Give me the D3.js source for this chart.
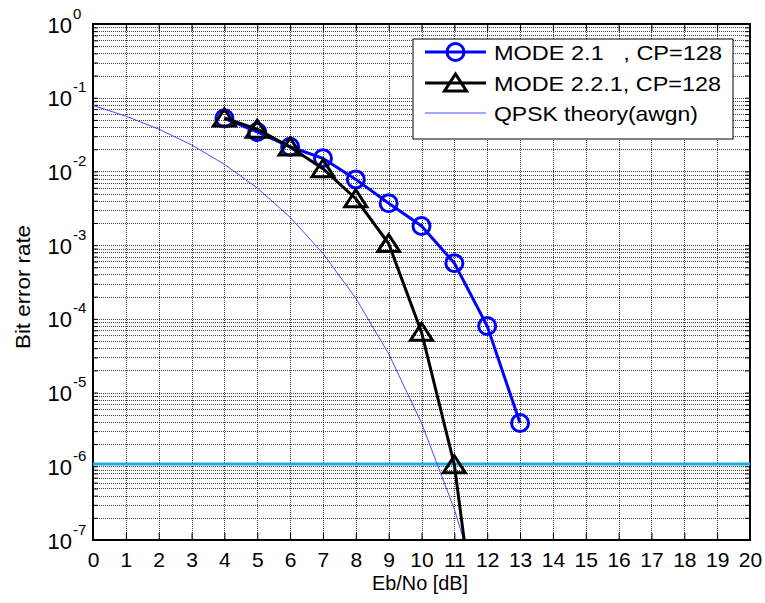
<!DOCTYPE html>
<html>
<head>
<meta charset="utf-8">
<script src="https://cdn.jsdelivr.net/npm/d3@7/dist/d3.min.js"></script>
<style>
  html, body { margin: 0; padding: 0; background: #fff; }
  svg { display: block; font-family: Arial, "Liberation Sans", sans-serif; }
</style>
</head>
<body>
<svg id="chart" width="765" height="603"></svg>
<script>
// ---- data ----
const snrMode21 = [4, 5, 6, 7, 8, 9, 10, 11, 12, 13];
const berMode21 = [0.0525, 0.0343, 0.0216, 0.0151, 0.0078, 0.0037, 0.00182, 0.00057, 8.0e-5, 3.86e-6];

const snrMode221 = [4, 5, 6, 7, 8, 9, 10, 11, 12];
const berMode221 = [0.053, 0.0374, 0.0215, 0.0109, 0.00426, 0.00105, 6.6e-5, 1.05e-6, 4e-10];

const snrTheory = [0, 1, 2, 3, 4, 5, 6, 7, 8, 9, 10, 11, 12];
const berTheory = [0.0786, 0.0563, 0.0375, 0.0229, 0.0125, 0.00595, 0.00239, 7.73e-4, 1.91e-4, 3.36e-5, 3.87e-6, 2.61e-7, 9.0e-9];

const targetBer = 1.07e-6;

const xTicks = d3.range(0, 21);
const yExponents = [0, -1, -2, -3, -4, -5, -6, -7];

const legendLabels = ["MODE 2.1   , CP=128", "MODE 2.2.1, CP=128", "QPSK theory(awgn)"];

// ---- layout ----
const L = 93, R = 750, T = 24, B = 540;
const svg = d3.select("#chart");

const x = d3.scaleLinear().domain([0, 20]).range([L, R]);
const y = d3.scaleLog().domain([1e-7, 1]).range([B, T]);

svg.append("defs").append("clipPath").attr("id", "clip")
  .append("rect").attr("x", L).attr("y", T).attr("width", R - L).attr("height", B - T);

// ---- grid ----
const grid = svg.append("g");
const hLines = [];
for (let e = -7; e < 0; e++) {
  for (let m = 1; m <= 9; m++) hLines.push(m * Math.pow(10, e));
}
grid.selectAll("line.h").data(hLines).join("line")
  .attr("x1", L).attr("x2", R)
  .attr("y1", d => Math.round(y(d)) + 0.5).attr("y2", d => Math.round(y(d)) + 0.5)
  .attr("stroke", "#000").attr("stroke-opacity", 0.75)
  .attr("stroke-width", 1).attr("stroke-dasharray", "1,1");
grid.selectAll("line.v").data(xTicks.slice(1, -1)).join("line")
  .attr("y1", T).attr("y2", B)
  .attr("x1", d => Math.round(x(d)) + 0.5).attr("x2", d => Math.round(x(d)) + 0.5)
  .attr("stroke", "#000").attr("stroke-opacity", 0.75)
  .attr("stroke-width", 1).attr("stroke-dasharray", "1,1");

// ---- axes ----
const xAxis = d3.axisBottom(x).tickValues(xTicks).tickSize(-7).tickPadding(12).tickSizeOuter(0);
const gx = svg.append("g").attr("transform", `translate(0,${B})`).call(xAxis);
gx.select(".domain").remove();
gx.selectAll(".tick line").attr("stroke", "#000");
gx.selectAll(".tick text").attr("font-size", 21).attr("fill", "#000")
  .attr("font-family", "Arial, 'Liberation Sans', sans-serif");

const xAxisTop = d3.axisTop(x).tickValues(xTicks).tickSize(-7).tickFormat("").tickSizeOuter(0);
const gxt = svg.append("g").attr("transform", `translate(0,${T})`).call(xAxisTop);
gxt.select(".domain").remove();

const yAxis = d3.axisLeft(y).tickValues(hLines.concat([1])).tickSize(-5).tickFormat("").tickSizeOuter(0);
const gy = svg.append("g").attr("transform", `translate(${L},0)`).call(yAxis);
gy.select(".domain").remove();
const yAxisR = d3.axisRight(y).tickValues(hLines.concat([1])).tickSize(-5).tickFormat("").tickSizeOuter(0);
const gyr = svg.append("g").attr("transform", `translate(${R},0)`).call(yAxisR);
gyr.select(".domain").remove();

// y labels 10^e
const ylab = svg.append("g");
yExponents.forEach(e => {
  const yy = y(Math.pow(10, e));
  ylab.append("text").attr("x", 72).attr("y", yy + 8.5)
    .attr("text-anchor", "end").attr("font-size", 22).attr("fill", "#000").text("10");
  ylab.append("text").attr("x", 73).attr("y", yy - 5.5)
    .attr("text-anchor", "start").attr("font-size", 15).attr("fill", "#000").text(String(e));
});

// frame
svg.append("rect").attr("x", L).attr("y", T).attr("width", R - L).attr("height", B - T)
  .attr("fill", "none").attr("stroke", "#000").attr("stroke-width", 2);

// axis titles
svg.append("text").attr("x", 420).attr("y", 590).attr("text-anchor", "middle")
  .attr("font-size", 20).attr("fill", "#000")
  .attr("textLength", 96).attr("lengthAdjust", "spacingAndGlyphs").text("Eb/No [dB]");
svg.append("text").attr("transform", `translate(30,${(T + B) / 2 + 5}) rotate(-90)`)
  .attr("text-anchor", "middle").attr("font-size", 20).attr("fill", "#000")
  .attr("textLength", 124).attr("lengthAdjust", "spacingAndGlyphs").text("Bit error rate");

// ---- data marks ----
const plot = svg.append("g").attr("clip-path", "url(#clip)");
const line = d3.line().x(d => x(d[0])).y(d => y(d[1]));

plot.append("line").attr("x1", L).attr("x2", R)
  .attr("y1", y(targetBer)).attr("y2", y(targetBer))
  .attr("stroke", "#19ade6").attr("stroke-width", 3);

plot.append("path").datum(d3.zip(snrTheory, berTheory))
  .attr("d", line).attr("fill", "none").attr("stroke", "#4a4aff").attr("stroke-width", 1);

const d21 = d3.zip(snrMode21, berMode21);
plot.append("path").datum(d21).attr("d", line)
  .attr("fill", "none").attr("stroke", "#0000ff").attr("stroke-width", 3);
plot.selectAll("circle.m21").data(d21).join("circle")
  .attr("cx", d => x(d[0])).attr("cy", d => y(d[1])).attr("r", 8.5)
  .attr("fill", "none").attr("stroke", "#0000ff").attr("stroke-width", 3);

const d221 = d3.zip(snrMode221, berMode221);
plot.append("path").datum(d221).attr("d", line)
  .attr("fill", "none").attr("stroke", "#000").attr("stroke-width", 3);
const tri = (cx, cy) => `M${cx},${cy - 9}L${cx + 11},${cy + 8}L${cx - 11},${cy + 8}Z`;
plot.selectAll("path.m221").data(d221).join("path")
  .attr("d", d => tri(x(d[0]), y(d[1])))
  .attr("fill", "none").attr("stroke", "#000").attr("stroke-width", 3);

// ---- legend ----
const lg = svg.append("g");
lg.append("rect").attr("x", 413).attr("y", 39).attr("width", 320).attr("height", 100)
  .attr("fill", "#fff").attr("stroke", "#000").attr("stroke-width", 1);
const rows = [52, 83, 113];
const lx1 = 425, lx2 = 486, lxm = (lx1 + lx2) / 2;
lg.append("line").attr("x1", lx1).attr("x2", lx2).attr("y1", rows[0]).attr("y2", rows[0])
  .attr("stroke", "#0000ff").attr("stroke-width", 3);
lg.append("circle").attr("cx", lxm).attr("cy", rows[0]).attr("r", 8.5)
  .attr("fill", "none").attr("stroke", "#0000ff").attr("stroke-width", 3);
lg.append("line").attr("x1", lx1).attr("x2", lx2).attr("y1", rows[1]).attr("y2", rows[1])
  .attr("stroke", "#000").attr("stroke-width", 3);
lg.append("path").attr("d", tri(lxm, rows[1])).attr("fill", "none")
  .attr("stroke", "#000").attr("stroke-width", 3);
lg.append("line").attr("x1", lx1).attr("x2", lx2).attr("y1", rows[2]).attr("y2", rows[2])
  .attr("stroke", "#4a4aff").attr("stroke-width", 1);
const legendWidths = [228, 227, 204];
legendLabels.forEach((t, i) => {
  lg.append("text").attr("x", 494).attr("y", rows[i] + 7.5).attr("font-size", 21)
    .attr("fill", "#000").attr("textLength", legendWidths[i]).attr("lengthAdjust", "spacingAndGlyphs")
    .style("white-space", "pre").text(t);
});
</script>
</body>
</html>
